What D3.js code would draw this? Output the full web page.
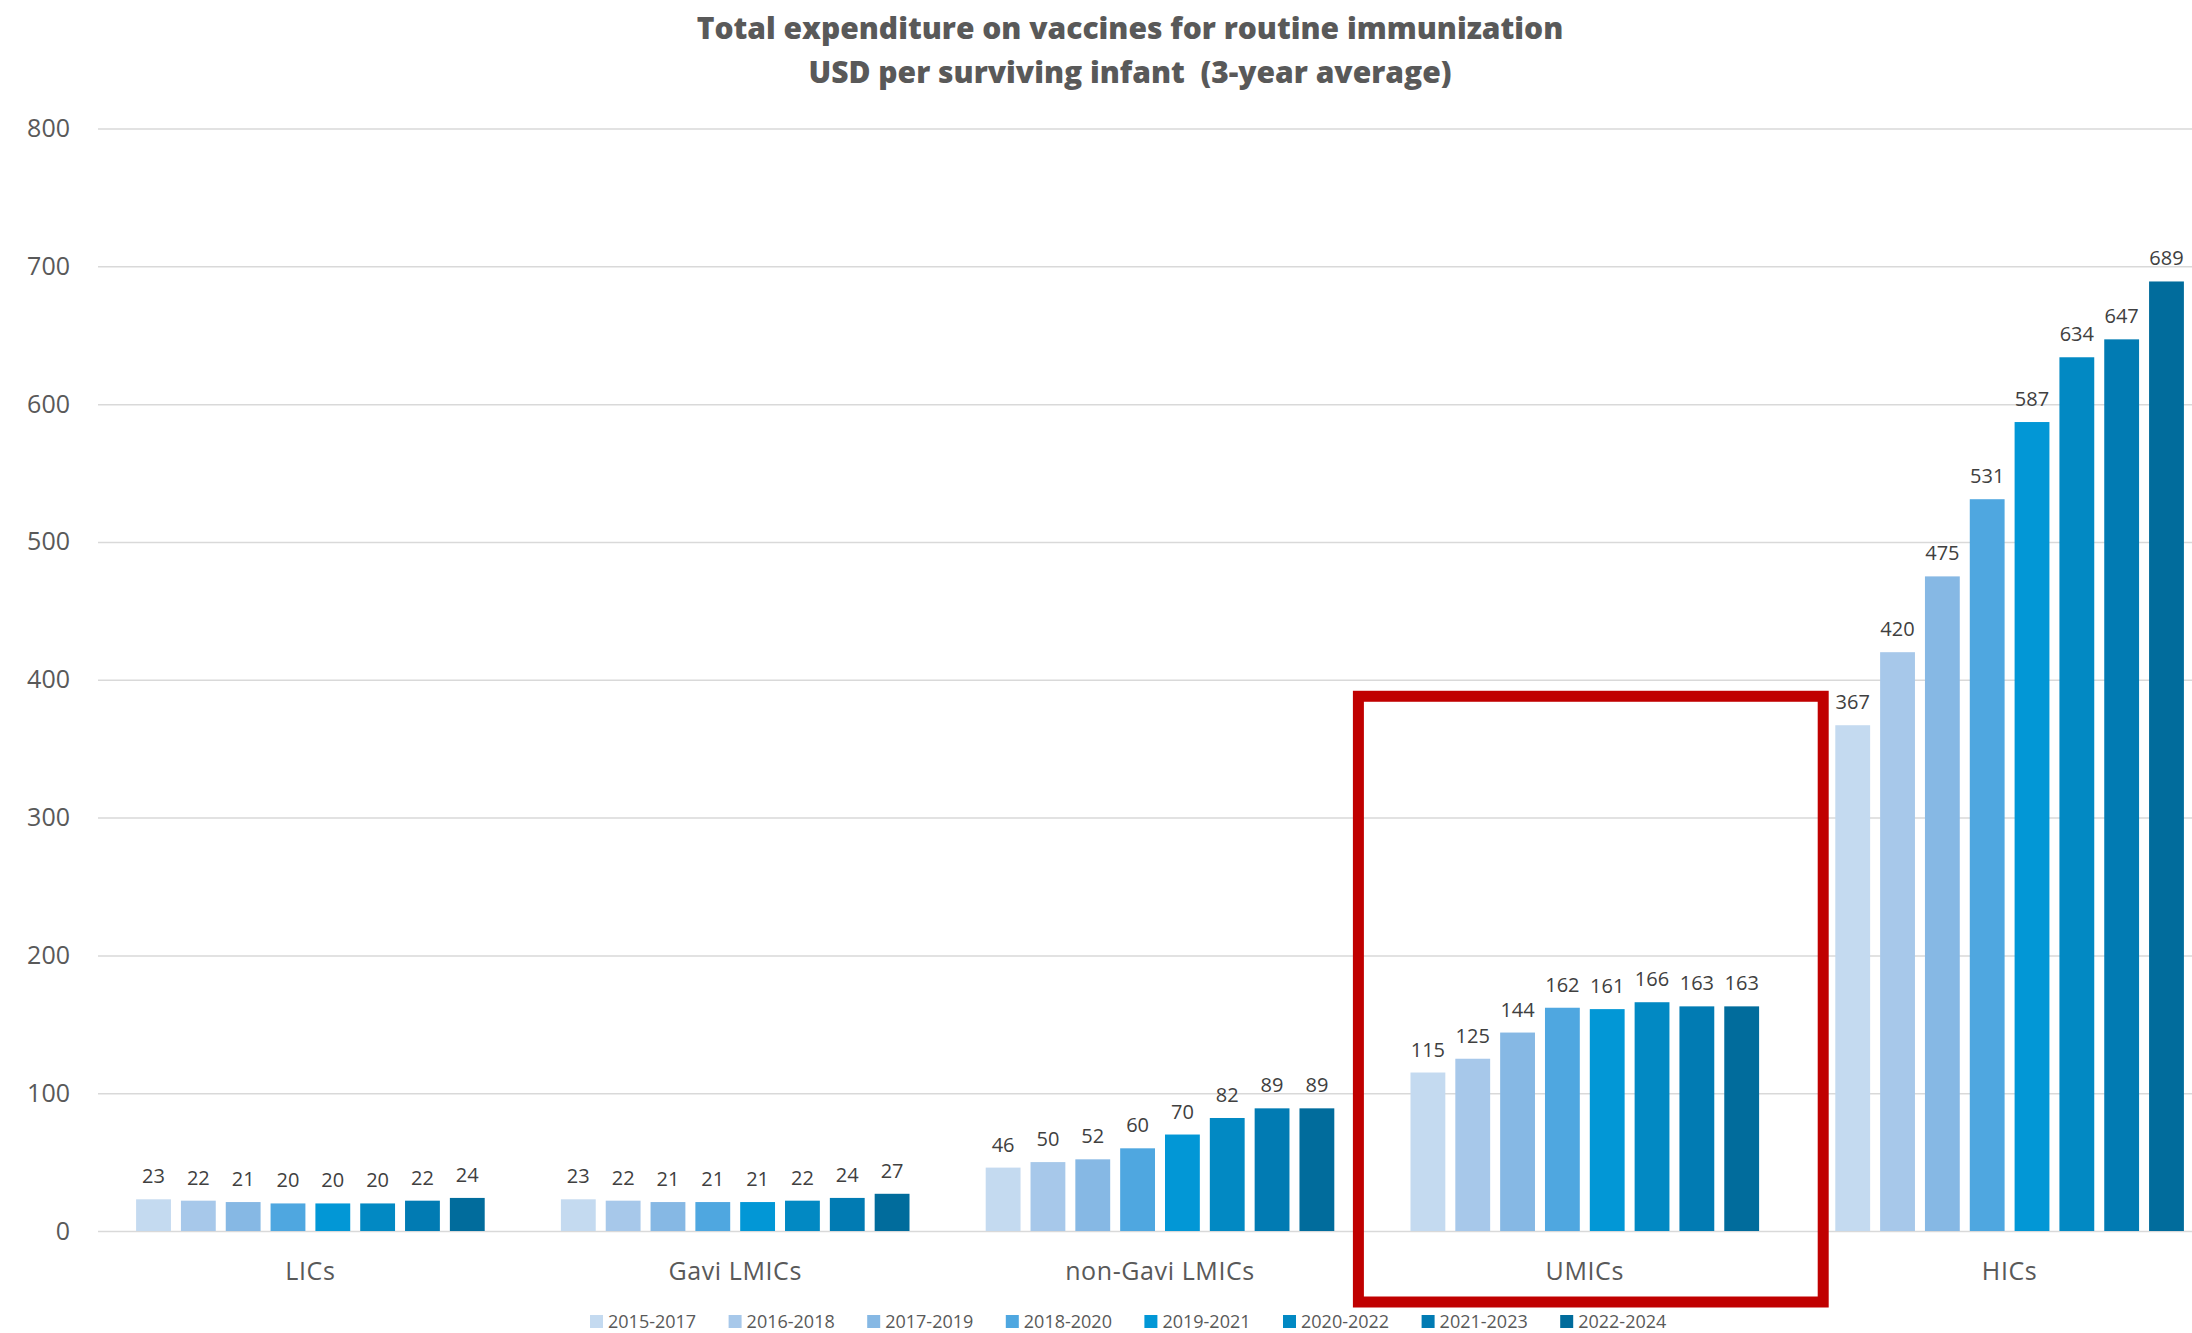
<!DOCTYPE html>
<html>
<head>
<meta charset="utf-8">
<script src="https://cdn.jsdelivr.net/npm/d3@7"></script>
<style>
  body { margin: 0; background: #fff; }
  svg { display: block; font-family: "Open Sans", sans-serif; }
</style>
</head>
<body>
<div id="chart"></div>
<script>
const width = 2192, height = 1333;

// data
const groups = ["LICs", "Gavi LMICs", "non-Gavi LMICs", "UMICs", "HICs"];
const periods = ["2015-2017", "2016-2018", "2017-2019", "2018-2020", "2019-2021", "2020-2022", "2021-2023", "2022-2024"];
const lics = [23, 22, 21, 20, 20, 20, 22, 24];
const gaviLmics = [23, 22, 21, 21, 21, 22, 24, 27];
const nonGaviLmics = [46, 50, 52, 60, 70, 82, 89, 89];
const umics = [115, 125, 144, 162, 161, 166, 163, 163];
const hics = [367, 420, 475, 531, 587, 634, 647, 689];
const yTicks = [0, 100, 200, 300, 400, 500, 600, 700, 800];
const colors = ["#c4daf0", "#a7c8ea", "#86b8e4", "#4fa7e0", "#0297d6", "#0289c3", "#017bb3", "#016c9c"];
const highlight = "UMICs";

const values = [lics, gaviLmics, nonGaviLmics, umics, hics];
const rows = groups.map((g, i) => ({ group: g, vals: values[i] }));

const svg = d3.select("#chart").append("svg")
  .attr("width", width)
  .attr("height", height);

// the plot runs a little off the right edge, as in the original
const x0 = d3.scaleBand().domain(groups).range([98, 2222]).paddingInner(0).paddingOuter(0);
const x1 = d3.scaleBand().domain(periods).range([0, x0.bandwidth()])
  .paddingInner(0.223).paddingOuter(0.85);
const y = d3.scaleLinear().domain([0, 800]).range([1231, 128.5]);
const color = d3.scaleOrdinal().domain(periods).range(colors);

// title
svg.append("text")
  .attr("x", 1130).attr("y", 39)
  .attr("text-anchor", "middle")
  .attr("font-size", 30).attr("font-weight", 800)
  .attr("fill", "#595959")
  .text("Total expenditure on vaccines for routine immunization");
svg.append("text")
  .attr("x", 1130).attr("y", 83)
  .attr("text-anchor", "middle")
  .attr("font-size", 30).attr("font-weight", 800)
  .attr("fill", "#595959")
  .style("white-space", "pre")
  .text("USD per surviving infant  (3-year average)");

// gridlines + y labels
const yAxis = svg.append("g")
  .attr("transform", "translate(98,0)")
  .call(d3.axisLeft(y).tickValues(yTicks).tickSize(-(width - 98)).tickPadding(28));
yAxis.select(".domain").remove();
yAxis.selectAll(".tick line").attr("stroke", "#d9d9d9").attr("stroke-width", 1.5);
yAxis.selectAll(".tick text")
  .attr("font-size", 25).attr("fill", "#595959")
  .attr("font-family", "Open Sans, sans-serif");

// bars
const g = svg.append("g")
  .selectAll("g")
  .data(rows)
  .join("g")
  .attr("transform", d => `translate(${x0(d.group)},0)`);

g.selectAll("rect")
  .data(d => d.vals.map((v, i) => ({ period: periods[i], value: v })))
  .join("rect")
  .attr("x", d => x1(d.period))
  .attr("y", d => y(d.value))
  .attr("width", x1.bandwidth())
  .attr("height", d => y(0) - y(d.value))
  .attr("fill", d => color(d.period));

g.selectAll("text.val")
  .data(d => d.vals.map((v, i) => ({ period: periods[i], value: v })))
  .join("text")
  .attr("class", "val")
  .attr("x", d => x1(d.period) + x1.bandwidth() / 2)
  .attr("y", d => y(d.value) - 16)
  .attr("text-anchor", "middle")
  .attr("font-size", 20)
  .attr("fill", "#404040")
  .text(d => d.value);

// category labels
svg.append("g")
  .selectAll("text")
  .data(groups)
  .join("text")
  .attr("x", d => x0(d) + x0.bandwidth() / 2)
  .attr("y", 1280)
  .attr("text-anchor", "middle")
  .attr("font-size", 25)
  .attr("letter-spacing", 0.6)
  .attr("fill", "#595959")
  .text(d => d);

// red highlight box round the UMICs group
const bx = x0(highlight) - 14, bw = x0.bandwidth() + 40;
svg.append("rect")
  .attr("x", bx)
  .attr("y", y(392) + 5.5)
  .attr("width", bw)
  .attr("height", 1302 - y(392) - 5.5)
  .attr("fill", "none")
  .attr("stroke", "#c00000")
  .attr("stroke-width", 11);

// legend
const legend = svg.append("g").attr("transform", "translate(590,1322)");
const item = legend.selectAll("g")
  .data(periods)
  .join("g")
  .attr("transform", (d, i) => `translate(${i * 138.6},0)`);
item.append("rect")
  .attr("x", 0).attr("y", -7)
  .attr("width", 13).attr("height", 13)
  .attr("fill", d => color(d));
item.append("text")
  .attr("x", 18).attr("y", 6)
  .attr("font-size", 18)
  .attr("fill", "#595959")
  .text(d => d);
</script>
</body>
</html>
